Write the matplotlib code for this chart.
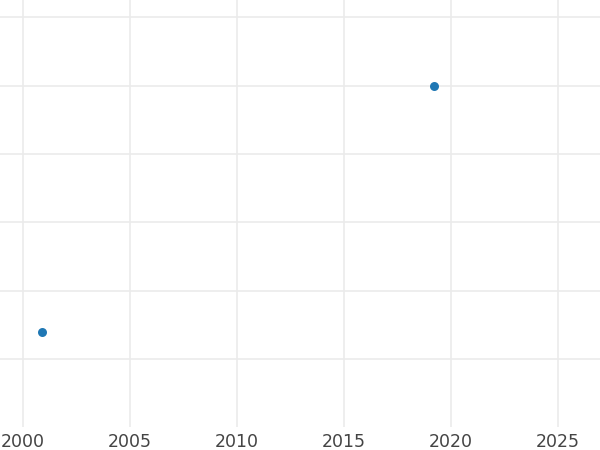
import matplotlib
matplotlib.use("Agg")
import matplotlib.pyplot as plt

years = [2000.9, 2019.2]
values = [0.4, 4.0]
x_ticks = [2000, 2005, 2010, 2015, 2020, 2025]
y_grid = [0, 1, 2, 3, 4, 5]

fig = plt.figure(figsize=(6, 4.5), dpi=100)
ax = fig.add_axes([0, 0.0511, 1, 0.9489])
ax.scatter(years, values, s=42, color="#1f77b4", zorder=3, linewidths=0)
ax.set_xlim(1998.93, 2026.96)
ax.set_ylim(-0.99, 5.25)
ax.set_xticks(x_ticks)
ax.set_xticklabels([str(t) for t in x_ticks])
ax.set_yticks(y_grid)
ax.set_yticklabels([])
ax.grid(True, color="#ebebeb", linewidth=1.2, zorder=0)
ax.set_axisbelow(True)
for s in ax.spines.values():
    s.set_visible(False)
ax.tick_params(axis="both", length=0)
ax.tick_params(axis="x", labelsize=12.5, labelcolor="#444444", pad=4.5)
fig.savefig("out.png", dpi=100)
